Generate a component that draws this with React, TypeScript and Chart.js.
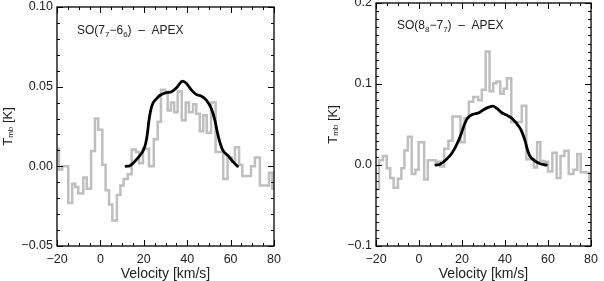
import React, { useEffect, useRef } from 'react';
import { Chart, registerables } from 'chart.js';

Chart.register(...registerables);

const FONT = '"Liberation Sans", Arial, Helvetica, sans-serif';

// shared velocity axis
const velocityTicks = [-20, 0, 20, 40, 60, 80];
const velocityRange = [-20, 80];

// ---- Left panel: SO(7_7-6_6) - APEX ----
const soA_yTicks = [-0.05, 0, 0.05, 0.1];
const soA_chanStart = [-20, -19.1, -17.6, -16.2, -14.8, -13, -11.6, -10.2, -7.9, -6.3, -4.3, -2.5, -1, 0.9, 2.4, 4, 5.5, 7.6, 9.2, 10.7, 12.6, 14.4, 16.3, 17.8, 19.6, 21, 22.4, 24.6, 26.4, 27.9, 29.8, 31, 32.5, 34, 35.6, 37.5, 39.3, 40.8, 42.7, 44.2, 45.8, 47.4, 49, 51, 53.1, 54.9, 56.6, 58.6, 60.5, 62, 63.9, 65.4, 67.4, 69.4, 71.2, 73.5, 75.6, 77.7, 79.2];
const soA_chanEnd = 80;
const soA_tmb = [0.011, -0.002, 0.0, 0.0, -0.023, -0.011, -0.013, -0.017, -0.007, -0.014, 0.0096, 0.03, 0.023, 0.001, -0.015, -0.024, -0.034, -0.018, -0.012, -0.008, -0.005, 0.0106, 0.009, 0.002, 0.011, 0.011, 0.0, 0.017, 0.028, 0.048, 0.047, 0.035, 0.04, 0.034, 0.047, 0.029, 0.04, 0.034, 0.039, 0.033, 0.022, 0.032, 0.021, 0.04, 0.009, 0.009, -0.008, 0.0055, 0.003, 0.012, 0.001, -0.006, -0.006, 0.0, 0.0055, -0.012, -0.012, -0.004, -0.014];
const soA_modelV = [11.8, 13.6, 15.9, 18.2, 19.8, 20.8, 21.6, 22.3, 23.0, 24.0, 25.9, 27.5, 30.5, 32.8, 35.1, 37.9, 39.7, 42.0, 44.3, 46.6, 48.9, 51.2, 52.8, 53.9, 55.1, 56.4, 59.0, 61.4, 63.2];
const soA_modelT = [0, 0.0004, 0.0032, 0.0068, 0.0102, 0.014, 0.02, 0.028, 0.034, 0.039, 0.0425, 0.0446, 0.0463, 0.0468, 0.0493, 0.0535, 0.052, 0.0478, 0.045, 0.044, 0.0414, 0.036, 0.0287, 0.0213, 0.0149, 0.0102, 0.0064, 0.0025, 0];
const soA_label: [string, number][] = [['SO(7', 0], ['7', 1], ['\u22126', 0], ['6', 1], [')  \u2013  APEX', 0]];

// ---- Right panel: SO(8_8-7_7) - APEX ----
const soB_yTicks = [-0.1, 0, 0.1, 0.2];
const soB_chanStart = [-20, -18.6, -16.8, -15, -13.4, -11.8, -9.8, -8.2, -6.8, -5.2, -3.4, -1.7, -0.2, 1.1, 2.4, 4.1, 5.8, 7.8, 9.8, 11.7, 13.7, 15.6, 17.5, 19.3, 21.2, 23.2, 25.2, 27.5, 29.2, 31, 32.8, 34.5, 36, 37.8, 39.4, 40.9, 42.9, 44.5, 46.2, 47.8, 49.9, 51.7, 53.4, 54.9, 56.4, 58.2, 60, 62, 64, 65.8, 67.6, 69.6, 71.8, 73.6, 75.2, 76.6, 77.9, 79.2];
const soB_chanEnd = 80;
const soB_tmb = [-0.03, 0.006, 0.011, -0.004, -0.016, -0.028, -0.017, -0.004, 0.018, 0.035, -0.011, -0.006, 0.028, 0.028, -0.018, 0.006, 0.006, 0.004, -0.002, 0.02, 0.03, 0.06, 0.06, 0.028, 0.058, 0.078, 0.084, 0.08, 0.093, 0.14, 0.091, 0.101, 0.103, 0.088, 0.094, 0.107, 0.053, 0.053, 0.053, 0.073, 0.007, 0.007, -0.003, 0.028, 0.005, 0.004, -0.008, 0.015, -0.016, 0.011, 0.0175, -0.011, -0.006, 0.0135, -0.009, -0.009, -0.01, -0.021];
const soB_modelV = [7.8, 9.8, 12.8, 15.0, 17.3, 19.3, 21.1, 22.6, 24.9, 27.9, 30.2, 32.5, 34.4, 36.2, 38.5, 40.7, 43.0, 45.2, 47.5, 49.3, 50.5, 51.5, 53.7, 56.7, 59.2];
const soB_modelT = [0, 0.001, 0.007, 0.0135, 0.024, 0.036, 0.05, 0.058, 0.0625, 0.0645, 0.0686, 0.0714, 0.0726, 0.0698, 0.0645, 0.0616, 0.058, 0.052, 0.043, 0.03, 0.018, 0.0114, 0.0053, 0.0012, 0];
const soB_label: [string, number][] = [['SO(8', 0], ['8', 1], ['\u22127', 0], ['7', 1], [')  \u2013  APEX', 0]];

const xTitle = 'Velocity [km/s]';
const yTitle: [string, number][] = [['T', 0], ['mb', 1], [' [K]', 0]];

const OFF = 20; // canvas starts above the page so top labels are not clipped
const H = 301;

function fmt(v: number, d: number) {
  const s = Math.abs(v).toFixed(d);
  return (v < -1e-9 ? '\u2212' : '') + s;
}

function richWidth(ctx: CanvasRenderingContext2D, segs: [string, number][], size: number, sub: number) {
  let w = 0;
  for (const [t, s] of segs) {
    ctx.font = `${s ? sub : size}px ${FONT}`;
    w += ctx.measureText(t).width;
  }
  return w;
}

function drawRich(ctx: CanvasRenderingContext2D, x: number, y: number, segs: [string, number][], size: number, sub: number, shift: number) {
  let cx = x;
  for (const [t, s] of segs) {
    ctx.font = `${s ? sub : size}px ${FONT}`;
    ctx.fillText(t, cx, y + (s ? shift : 0));
    cx += ctx.measureText(t).width;
  }
}

const framePlugin = {
  id: 'frame',
  afterDraw(chart: any, _args: any, o: any) {
    const { ctx, chartArea: a } = chart;
    const xs = chart.scales.x;
    const ys = chart.scales.y;
    ctx.save();
    ctx.strokeStyle = '#000';
    ctx.lineWidth = 1;
    ctx.beginPath();
    for (let v = velocityRange[0]; v <= velocityRange[1]; v += 5) {
      const px = Math.round(xs.getPixelForValue(v)) + 0.5;
      const len = v % 20 === 0 ? 6 : 3;
      ctx.moveTo(px, a.bottom);
      ctx.lineTo(px, a.bottom - len);
      ctx.moveTo(px, a.top);
      ctx.lineTo(px, a.top + len);
    }
    const k0 = Math.round(ys.min / o.yMinor);
    const k1 = Math.round(ys.max / o.yMinor);
    for (let k = k0; k <= k1; k++) {
      const py = Math.round(ys.getPixelForValue(k * o.yMinor)) + 0.5;
      const len = k % o.yMajorEvery === 0 ? 6 : 3;
      ctx.moveTo(a.left, py);
      ctx.lineTo(a.left + len, py);
      ctx.moveTo(a.right, py);
      ctx.lineTo(a.right - len, py);
    }
    ctx.stroke();
    ctx.lineWidth = 1.3;
    ctx.strokeRect(a.left, a.top, a.right - a.left, a.bottom - a.top);

    ctx.fillStyle = '#222';
    ctx.textAlign = 'left';
    ctx.textBaseline = 'alphabetic';
    drawRich(ctx, a.left + o.labelDx, a.top + o.labelDy, o.label, 12, 8, 3);

    // x title
    ctx.textBaseline = 'middle';
    ctx.font = `14px ${FONT}`;
    ctx.textAlign = 'center';
    ctx.fillText(xTitle, (a.left + a.right) / 2, a.bottom + 28);

    // y title
    ctx.textAlign = 'left';
    const w = richWidth(ctx, yTitle, 13, 8);
    ctx.translate(o.yTitleX, (a.top + a.bottom) / 2);
    ctx.rotate(-Math.PI / 2);
    drawRich(ctx, -w / 2, 0, yTitle, 13, 8, 3);
    ctx.restore();
  },
};

type PanelCfg = {
  canvasLeft: number;
  canvasWidth: number;
  plotLeft: number;
  plotRight: number;
  plotTop: number;
  plotBottom: number;
  yTicks: number[];
  yDec: number;
  yPad: number;
  yMajorEvery: number;
  chanStart: number[];
  chanEnd: number;
  tmb: number[];
  modelV: number[];
  modelT: number[];
  label: [string, number][];
  labelDx: number;
  labelDy: number;
  yTitleX: number;
};

function Panel({ c }: { c: PanelCfg }) {
  const ref = useRef<HTMLCanvasElement>(null);
  useEffect(() => {
    const hist = c.chanStart.map((x, i) => ({ x, y: c.tmb[i] }));
    hist.push({ x: c.chanEnd, y: c.tmb[c.tmb.length - 1] });
    const model = c.modelV.map((x, i) => ({ x, y: c.modelT[i] }));
    const yMin = c.yTicks[0];
    const yMax = c.yTicks[c.yTicks.length - 1];
    const chart = new Chart(ref.current as HTMLCanvasElement, {
      type: 'line',
      data: {
        datasets: [
          {
            data: model,
            borderColor: '#000',
            borderWidth: 2.8,
            pointRadius: 0,
            cubicInterpolationMode: 'monotone',
            borderCapStyle: 'round',
            borderJoinStyle: 'round',
            fill: false,
          },
          {
            data: hist,
            borderColor: '#bfbfbf',
            borderWidth: 2.5,
            pointRadius: 0,
            stepped: true,
            borderJoinStyle: 'miter',
            fill: false,
          },
        ],
      } as any,
      options: {
        responsive: false,
        animation: false,
        events: [],
        layout: {
          padding: {
            top: c.plotTop + OFF,
            right: c.canvasLeft + c.canvasWidth - c.plotRight,
            left: 0,
            bottom: 0,
          },
        },
        plugins: {
          legend: { display: false },
          tooltip: { enabled: false },
          frame: {
            yMinor: 0.01,
            yMajorEvery: c.yMajorEvery,
            label: c.label,
            labelDx: c.labelDx,
            labelDy: c.labelDy,
            yTitleX: c.yTitleX,
          },
        } as any,
        scales: {
          x: {
            type: 'linear',
            min: velocityRange[0],
            max: velocityRange[1],
            grid: { display: false, drawTicks: false },
            border: { display: false },
            afterBuildTicks: (s: any) => {
              s.ticks = velocityTicks.map((v) => ({ value: v }));
            },
            afterFit: (s: any) => {
              s.height = H - (c.plotBottom + OFF);
            },
            ticks: {
              padding: 6,
              color: '#222',
              maxRotation: 0,
              autoSkip: false,
              font: { family: FONT, size: 12.5 },
              callback: (v: any) => fmt(Number(v), 0),
            },
          },
          y: {
            type: 'linear',
            min: yMin,
            max: yMax,
            grid: { display: false, drawTicks: false },
            border: { display: false },
            afterBuildTicks: (s: any) => {
              s.ticks = c.yTicks.map((v) => ({ value: v }));
            },
            afterFit: (s: any) => {
              s.width = c.plotLeft - c.canvasLeft;
            },
            ticks: {
              padding: c.yPad,
              color: '#222',
              autoSkip: false,
              font: { family: FONT, size: 12.5 },
              callback: (v: any) => fmt(Number(v), c.yDec),
            },
          },
        },
      } as any,
      plugins: [framePlugin as any],
    });
    return () => chart.destroy();
  }, []);
  return (
    <canvas
      ref={ref}
      width={c.canvasWidth}
      height={H}
      style={{ position: 'absolute', left: c.canvasLeft, top: -OFF, width: c.canvasWidth, height: H }}
    />
  );
}

const leftCfg: PanelCfg = {
  canvasLeft: 0,
  canvasWidth: 300,
  plotLeft: 57,
  plotRight: 274,
  plotTop: 7,
  plotBottom: 246,
  yTicks: soA_yTicks,
  yDec: 2,
  yPad: 4,
  yMajorEvery: 5,
  chanStart: soA_chanStart,
  chanEnd: soA_chanEnd,
  tmb: soA_tmb,
  modelV: soA_modelV,
  modelT: soA_modelT,
  label: soA_label,
  labelDx: 20,
  labelDy: 27,
  yTitleX: 8,
};

const rightCfg: PanelCfg = {
  canvasLeft: 300,
  canvasWidth: 304,
  plotLeft: 376,
  plotRight: 597,
  plotTop: 3,
  plotBottom: 246,
  yTicks: soB_yTicks,
  yDec: 1,
  yPad: 4,
  yMajorEvery: 10,
  chanStart: soB_chanStart,
  chanEnd: soB_chanEnd,
  tmb: soB_tmb,
  modelV: soB_modelV,
  modelT: soB_modelT,
  label: soB_label,
  labelDx: 21,
  labelDy: 26,
  yTitleX: 33,
};

export default function App() {
  return (
    <div style={{ position: 'fixed', left: 0, top: 0, width: 604, height: 281, overflow: 'hidden', background: '#fff' }}>
      <Panel c={leftCfg} />
      <Panel c={rightCfg} />
    </div>
  );
}
